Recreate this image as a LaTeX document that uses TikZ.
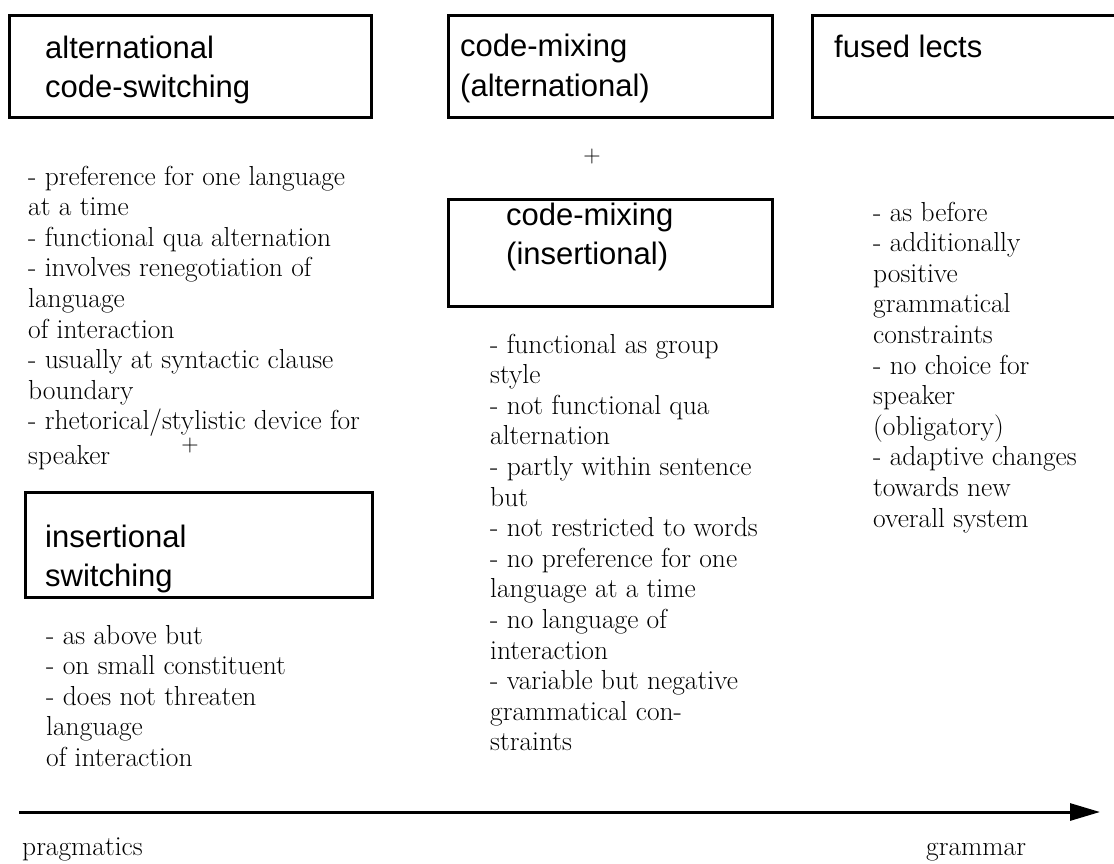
\documentclass[tikz,border=0pt]{standalone}
\usepackage{fontspec}
\newfontfamily\boxfont{Liberation Sans}
\usetikzlibrary{arrows.meta}
\begin{document}
\begin{tikzpicture}[x=1pt,y=-1pt,
  box/.style={draw,line width=3pt,inner sep=0pt},
  boxtxt/.style={font=\boxfont\fontsize{31}{39.5}\selectfont,anchor=base west,inner sep=0pt,align=left},
  body/.style={font=\fontsize{27.5}{30.6}\selectfont,anchor=base west,inner sep=0pt,align=left},
  plus/.style={font=\fontsize{24}{24}\selectfont,inner sep=0pt},
  axis/.style={line width=3pt,-{Triangle[length=30pt,width=17pt]}}]
\useasboundingbox (0,0) rectangle (1114,863);
% boxes
\node[box,minimum width=362,minimum height=102] (b1) at (190.5,66.5) {};
\node[box,minimum width=324,minimum height=102] (b2) at (610.5,66.5) {};
\node[box,minimum width=307.5,minimum height=102] (b3) at (966.25,66.5) {};
\node[box,minimum width=324,minimum height=107] (b4) at (610.5,253) {};
\node[box,minimum width=347,minimum height=105] (b5) at (199,545) {};
% box texts (anchored at the baseline of their last line)
\node[boxtxt] (t1) at (45,97.5) {alternational\\code-switching};
\node[boxtxt] (t2) at (460,96) {code-mixing\\(alternational)};
\node[boxtxt] (t3) at (834,57) {fused lects};
\node[boxtxt] (t4) at (506,264.5) {code-mixing\\(insertional)};
\node[boxtxt] (t5) at (45,586.5) {insertional\\switching};
% plus signs
\node[plus] (p1) at (592,157) {+};
\node[plus] (p2) at (190,446) {+};
% body texts (anchored at the baseline of their last line)
\node[body] (l1) at (28,464.4) {- preference for one language\\at a time\\- functional qua alternation\\- involves renegotiation of\\language\\of interaction\\- usually at syntactic clause\\boundary\\- rhetorical/stylistic device for\\[4pt]speaker};
\node[body] (l2) at (46,766.4) {- as above but\\- on small constituent\\- does not threaten\\language\\of interaction};
\node[body] (m1) at (490,750.8) {- functional as group\\style\\- not functional qua\\alternation\\- partly within sentence\\but\\- not restricted to words\\- no preference for one\\language at a time\\- no language of\\interaction\\- variable but negative\\grammatical con-\\straints};
\node[body] (r1) at (873,527) {- as before\\- additionally\\positive\\grammatical\\constraints\\- no choice for\\speaker\\(obligatory)\\- adaptive changes\\towards new\\overall system};
% axis
\coordinate (aS) at (19,812);
\coordinate (aE) at (1100,812);
\draw[axis] (aS) -- (aE);
\node[body] (prag) at (22,855) {pragmatics};
\node[body] (gram) at (926,855) {grammar};
\end{tikzpicture}
\end{document}
